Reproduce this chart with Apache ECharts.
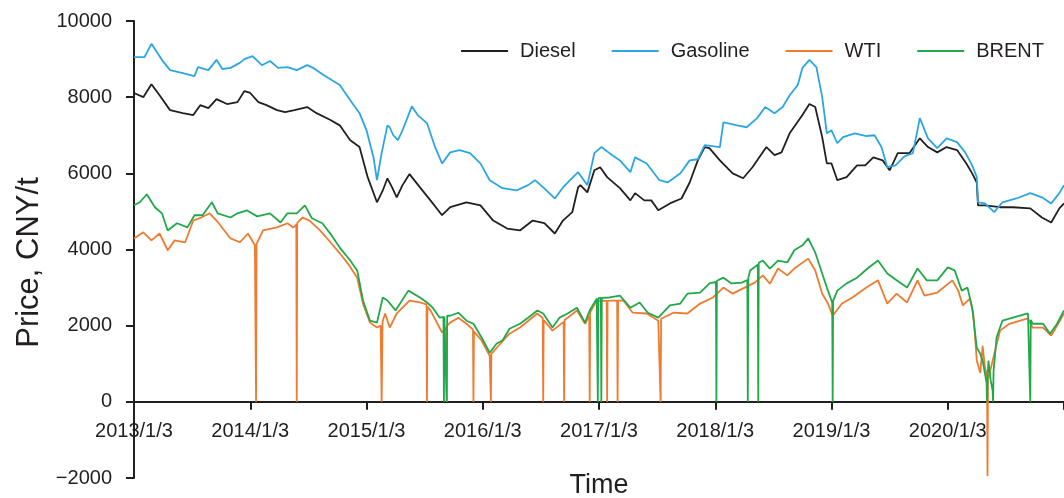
<!DOCTYPE html>
<html>
<head>
<meta charset="utf-8">
<style>
  html, body { margin: 0; padding: 0; background: #ffffff; }
  #chart { width: 1064px; height: 498px; }
</style>
<script src="https://cdn.jsdelivr.net/npm/echarts@6/dist/echarts.min.js"></script>
</head>
<body>
<div id="chart"></div>
<script>
// Time is expressed in decimal years, 2013.0 = 2013/1/3.
const yearTicks = [2013, 2014, 2015, 2016, 2017, 2018, 2019, 2020];
const seriesNames = ['Diesel', 'Gasoline', 'WTI', 'BRENT'];
const priceRange = [-2000, 10000];

// Diesel price, CNY/t
const diesel = [
  [2013.00, 8110], [2013.08, 8000], [2013.15, 8340], [2013.22, 8050], [2013.31, 7660],
  [2013.42, 7580], [2013.51, 7530], [2013.57, 7790], [2013.64, 7710], [2013.71, 7950],
  [2013.80, 7820], [2013.89, 7870], [2013.95, 8160], [2014.00, 8110], [2014.07, 7870],
  [2014.14, 7790], [2014.23, 7660], [2014.30, 7610], [2014.38, 7660], [2014.49, 7740],
  [2014.57, 7580], [2014.69, 7400], [2014.77, 7260], [2014.86, 6870], [2014.94, 6690],
  [2015.01, 5900], [2015.09, 5240], [2015.14, 5550], [2015.18, 5870], [2015.22, 5630],
  [2015.26, 5370], [2015.31, 5690], [2015.37, 5980], [2015.46, 5630], [2015.55, 5290],
  [2015.65, 4900], [2015.72, 5110], [2015.86, 5240], [2015.98, 5160], [2016.09, 4760],
  [2016.21, 4550], [2016.32, 4500], [2016.43, 4760], [2016.53, 4690], [2016.62, 4420],
  [2016.69, 4760], [2016.77, 4980], [2016.82, 5630], [2016.84, 5690], [2016.90, 5500],
  [2016.96, 6080], [2017.01, 6160], [2017.07, 5900], [2017.18, 5610], [2017.27, 5290],
  [2017.31, 5480], [2017.39, 5290], [2017.45, 5290], [2017.51, 5030], [2017.61, 5210],
  [2017.71, 5340], [2017.78, 5760], [2017.85, 6340], [2017.91, 6690], [2017.95, 6660],
  [2018.04, 6340], [2018.15, 6000], [2018.24, 5870], [2018.32, 6160], [2018.44, 6690],
  [2018.51, 6480], [2018.57, 6550], [2018.64, 7050], [2018.75, 7530], [2018.81, 7820],
  [2018.86, 7740], [2018.92, 6950], [2018.96, 6260], [2019.00, 6260], [2019.05, 5820],
  [2019.13, 5900], [2019.22, 6210], [2019.29, 6210], [2019.36, 6420], [2019.44, 6340],
  [2019.50, 6080], [2019.57, 6530], [2019.67, 6530], [2019.76, 6920], [2019.83, 6690],
  [2019.91, 6550], [2019.99, 6690], [2020.08, 6610], [2020.16, 6260], [2020.21, 6000],
  [2020.25, 5760], [2020.26, 5160], [2020.32, 5160], [2020.45, 5110], [2020.56, 5110],
  [2020.71, 5080], [2020.81, 4840], [2020.89, 4710], [2020.96, 5080], [2021.00, 5210]
];

// Gasoline price, CNY/t
const gasoline = [
  [2013.00, 9050], [2013.09, 9050], [2013.15, 9400], [2013.24, 8980], [2013.31, 8710],
  [2013.42, 8630], [2013.52, 8550], [2013.55, 8790], [2013.64, 8710], [2013.71, 8980],
  [2013.76, 8740], [2013.83, 8770], [2013.91, 8900], [2013.95, 9000], [2014.02, 9080],
  [2014.10, 8840], [2014.17, 8950], [2014.24, 8770], [2014.32, 8790], [2014.40, 8710],
  [2014.49, 8840], [2014.54, 8770], [2014.63, 8580], [2014.70, 8450], [2014.77, 8320],
  [2014.86, 7920], [2014.94, 7580], [2015.00, 7130], [2015.06, 6420], [2015.09, 5820],
  [2015.13, 6530], [2015.18, 7260], [2015.20, 7210], [2015.23, 7000], [2015.27, 6870],
  [2015.31, 7130], [2015.39, 7760], [2015.44, 7530], [2015.52, 7320], [2015.59, 6690],
  [2015.65, 6260], [2015.72, 6550], [2015.80, 6610], [2015.89, 6530], [2015.98, 6260],
  [2016.06, 5820], [2016.17, 5610], [2016.29, 5550], [2016.39, 5690], [2016.45, 5820],
  [2016.52, 5630], [2016.62, 5340], [2016.69, 5630], [2016.82, 6030], [2016.90, 5690],
  [2016.96, 6530], [2017.02, 6690], [2017.09, 6530], [2017.18, 6340], [2017.27, 6030],
  [2017.31, 6420], [2017.41, 6260], [2017.52, 5820], [2017.59, 5760], [2017.70, 6000],
  [2017.78, 6340], [2017.85, 6370], [2017.91, 6740], [2018.04, 6690], [2018.07, 7340],
  [2018.19, 7260], [2018.27, 7210], [2018.36, 7450], [2018.43, 7740], [2018.51, 7580],
  [2018.58, 7740], [2018.64, 8050], [2018.71, 8320], [2018.75, 8770], [2018.81, 8980],
  [2018.87, 8790], [2018.92, 8000], [2018.96, 7050], [2019.00, 7130], [2019.05, 6790],
  [2019.10, 6950], [2019.20, 7050], [2019.30, 6980], [2019.37, 7000], [2019.43, 6690],
  [2019.48, 6160], [2019.55, 6210], [2019.63, 6450], [2019.70, 6530], [2019.76, 7450],
  [2019.83, 6920], [2019.91, 6660], [2019.99, 6920], [2020.08, 6820], [2020.15, 6550],
  [2020.21, 6210], [2020.25, 5900], [2020.26, 5240], [2020.32, 5210], [2020.40, 4980],
  [2020.47, 5240], [2020.59, 5340], [2020.71, 5480], [2020.81, 5370], [2020.89, 5210],
  [2020.96, 5480], [2021.00, 5690]
];

// WTI crude price, CNY/t (days without quotes recorded as 0)
const wti = [
  [2013.00, 4290], [2013.08, 4450], [2013.15, 4240], [2013.22, 4420], [2013.29, 3980],
  [2013.35, 4240], [2013.44, 4190], [2013.51, 4760], [2013.58, 4840], [2013.65, 4950],
  [2013.71, 4760], [2013.83, 4290], [2013.91, 4190], [2013.98, 4420], [2014.04, 4110],
  [2014.046, 4120], [2014.05, 0], [2014.054, 4150],
  [2014.11, 4500], [2014.23, 4580], [2014.32, 4690], [2014.37, 4580],
  [2014.396, 4650], [2014.40, 0], [2014.404, 4700],
  [2014.45, 4840], [2014.51, 4760], [2014.60, 4500], [2014.69, 4190], [2014.77, 3900],
  [2014.84, 3630], [2014.92, 3260], [2014.97, 2580], [2015.03, 2080], [2015.09, 1950],
  [2015.122, 2000], [2015.13, 0], [2015.138, 2100],
  [2015.16, 2320], [2015.20, 1950], [2015.26, 2320], [2015.37, 2660], [2015.46, 2610],
  [2015.516, 2560], [2015.52, 0], [2015.524, 2500],
  [2015.55, 2400], [2015.65, 1820],
  [2015.686, 1950], [2015.69, 0], [2015.694, 2000],
  [2015.72, 2080], [2015.79, 2210], [2015.86, 2050],
  [2015.916, 1900], [2015.92, 0], [2015.924, 1850],
  [2015.99, 1610], [2016.06, 1210],
  [2016.066, 1230], [2016.07, 0], [2016.074, 1260],
  [2016.12, 1420], [2016.23, 1790], [2016.32, 1950], [2016.47, 2320],
  [2016.516, 2200], [2016.52, 0], [2016.524, 2150],
  [2016.60, 1870],
  [2016.696, 2100], [2016.70, 0], [2016.704, 2150],
  [2016.73, 2210], [2016.81, 2400], [2016.88, 2050],
  [2016.916, 2250], [2016.92, 0], [2016.924, 2350],
  [2016.98, 2660],
  [2017.066, 2650], [2017.07, 0], [2017.074, 2650],
  [2017.12, 2660],
  [2017.156, 2660], [2017.16, 0], [2017.164, 2660],
  [2017.21, 2660], [2017.29, 2340], [2017.41, 2320], [2017.51, 2130],
  [2017.526, 2150], [2017.53, 0], [2017.534, 2180],
  [2017.64, 2340], [2017.76, 2320], [2017.87, 2580], [2017.98, 2740], [2018.07, 3000],
  [2018.15, 2840], [2018.24, 2980], [2018.34, 3130], [2018.41, 3320], [2018.47, 3100],
  [2018.54, 3500], [2018.62, 3320], [2018.68, 3500], [2018.80, 3760], [2018.86, 3450],
  [2018.92, 2840], [2018.97, 2580], [2019.01, 2260], [2019.09, 2580], [2019.18, 2740],
  [2019.30, 3000], [2019.40, 3190], [2019.48, 2580], [2019.56, 2840], [2019.65, 2610],
  [2019.74, 3190], [2019.80, 2790], [2019.91, 2870], [2020.04, 3190], [2020.09, 2920],
  [2020.13, 2530], [2020.19, 2710], [2020.22, 2320], [2020.25, 1080], [2020.28, 760],
  [2020.30, 1470], [2020.32, 900],
  [2020.338, 700], [2020.342, -1950], [2020.346, 600],
  [2020.36, 740], [2020.40, 1260], [2020.45, 1870], [2020.53, 2050], [2020.69, 2190],
  [2020.73, 1950], [2020.82, 1950], [2020.89, 1740], [2020.95, 2050], [2021.00, 2320]
];

// BRENT crude price, CNY/t (days without quotes recorded as 0)
const brent = [
  [2013.00, 5160], [2013.05, 5240], [2013.11, 5450], [2013.18, 5110], [2013.24, 4950],
  [2013.29, 4500], [2013.37, 4690], [2013.46, 4580], [2013.52, 4900], [2013.59, 4900],
  [2013.67, 5240], [2013.72, 4950], [2013.83, 4840], [2013.89, 4950], [2013.97, 5030],
  [2014.06, 4870], [2014.17, 4950], [2014.26, 4710], [2014.32, 4950], [2014.40, 4950],
  [2014.47, 5160], [2014.53, 4820], [2014.62, 4690], [2014.70, 4370], [2014.77, 4050],
  [2014.86, 3710], [2014.92, 3450], [2014.97, 2660], [2015.03, 2130], [2015.09, 2080],
  [2015.14, 2740], [2015.18, 2660], [2015.25, 2400], [2015.36, 2920], [2015.46, 2740],
  [2015.52, 2610], [2015.57, 2470], [2015.63, 2210],
  [2015.662, 2230], [2015.666, 0], [2015.67, 2240],
  [2015.686, 2250], [2015.69, 0], [2015.694, 2260],
  [2015.72, 2260], [2015.79, 2340], [2015.86, 2130], [2015.92, 2050], [2015.99, 1690],
  [2016.06, 1290], [2016.12, 1530], [2016.17, 1610], [2016.23, 1920], [2016.32, 2050],
  [2016.39, 2210], [2016.47, 2400], [2016.52, 2320], [2016.60, 1950], [2016.66, 2210],
  [2016.73, 2320], [2016.81, 2470], [2016.88, 2080], [2016.92, 2400], [2016.98, 2710],
  [2016.986, 2720], [2016.99, 0], [2016.994, 2720],
  [2017.016, 2730], [2017.02, 0], [2017.024, 2730],
  [2017.09, 2740], [2017.18, 2790], [2017.27, 2470], [2017.35, 2610], [2017.42, 2340],
  [2017.51, 2210], [2017.61, 2530], [2017.70, 2580], [2017.76, 2840], [2017.87, 2870],
  [2017.95, 3110],
  [2018.006, 3150], [2018.01, 0], [2018.014, 3180],
  [2018.07, 3260], [2018.14, 3110], [2018.23, 3130],
  [2018.276, 3200], [2018.28, 0], [2018.284, 3250],
  [2018.30, 3450],
  [2018.366, 3600], [2018.37, 0], [2018.374, 3650],
  [2018.41, 3710], [2018.47, 3500], [2018.54, 3710], [2018.62, 3660], [2018.68, 3980],
  [2018.75, 4110], [2018.80, 4290], [2018.86, 3920], [2018.92, 3370], [2018.96, 3000],
  [2019.00, 2660],
  [2019.006, 2600], [2019.01, 0], [2019.014, 2650],
  [2019.05, 2920], [2019.13, 3110], [2019.22, 3260], [2019.31, 3500], [2019.40, 3710],
  [2019.48, 3370], [2019.56, 3190], [2019.65, 3000], [2019.74, 3500], [2019.82, 3190],
  [2019.91, 3190], [2020.00, 3530], [2020.06, 3450], [2020.12, 2920], [2020.17, 3000],
  [2020.21, 2470], [2020.25, 1420], [2020.28, 1260], [2020.30, 1080], [2020.32, 740],
  [2020.334, 500], [2020.338, 0], [2020.342, 600],
  [2020.35, 1080], [2020.37, 550],
  [2020.386, 300], [2020.39, 0], [2020.394, 800],
  [2020.42, 1690], [2020.47, 2130], [2020.56, 2210], [2020.69, 2320],
  [2020.706, 2320], [2020.71, 0], [2020.714, 2150],
  [2020.73, 2050], [2020.82, 2050], [2020.88, 1790], [2020.94, 2050], [2021.00, 2400]
];

const ink = '#231f20';
const fontFamily = '"Liberation Sans", Arial, Helvetica, sans-serif';
const colors = ['#231f20', '#2ba6e1', '#ee7b30', '#21a84a'];

const chartWidth = 1064, chartHeight = 498;
const gridBox = { left: 134, right: 0, top: 21, bottom: 20 };
// The time axis sits on the zero price line: shift it up from the grid bottom
// by the share of the plot height taken by the negative range.
const plotHeight = chartHeight - gridBox.top - gridBox.bottom;
const zeroOffset = plotHeight * (0 - priceRange[0]) / (priceRange[1] - priceRange[0]);

const chart = echarts.init(document.getElementById('chart'), null, { renderer: 'canvas' });

function lineSeries(name, data, color) {
  return {
    name: name,
    type: 'line',
    data: data,
    symbol: 'none',
    showSymbol: false,
    sampling: false,
    lineStyle: { color: color, width: 1.8 },
    itemStyle: { color: color }
  };
}

chart.setOption({
  animation: false,
  backgroundColor: '#ffffff',
  textStyle: { fontFamily: fontFamily, color: ink },
  grid: Object.assign({ containLabel: false, outerBoundsMode: 'none' }, gridBox),
  legend: {
    data: seriesNames,
    right: 15,
    top: 36,
    icon: 'rect',
    itemWidth: 47,
    itemHeight: 2,
    itemGap: 36,
    textStyle: { fontSize: 20, color: ink, fontFamily: fontFamily, padding: [0, 0, 0, 7] }
  },
  xAxis: {
    type: 'value',
    position: 'bottom',
    offset: -zeroOffset,
    min: yearTicks[0],
    max: 2021,
    interval: 1,
    name: 'Time',
    nameLocation: 'middle',
    nameGap: 70,
    nameTextStyle: { fontSize: 27, color: ink, fontFamily: fontFamily },
    axisLine: { onZero: false, lineStyle: { color: ink, width: 2 } },
    axisTick: { show: true, inside: false, length: 8, lineStyle: { color: ink, width: 2 } },
    axisLabel: {
      fontSize: 20,
      color: ink,
      margin: 20,
      formatter: function (v) {
        return yearTicks.indexOf(v) >= 0 ? v + '/1/3' : '';
      }
    },
    splitLine: { show: false }
  },
  yAxis: {
    type: 'value',
    min: priceRange[0],
    max: priceRange[1],
    interval: 2000,
    name: 'Price, CNY/t',
    nameLocation: 'middle',
    nameGap: 84,
    nameTextStyle: { fontSize: 31, color: ink, fontFamily: fontFamily, padding: [0, 26, 0, 0] },
    axisLine: { show: true, lineStyle: { color: ink, width: 2 } },
    axisTick: { show: true, inside: false, length: 8, lineStyle: { color: ink, width: 2 } },
    axisLabel: {
      fontSize: 20,
      color: ink,
      margin: 22,
      formatter: function (v) {
        return v < 0 ? '\u2212' + Math.abs(v) : String(v);
      }
    },
    splitLine: { show: false }
  },
  series: [
    lineSeries('Diesel', diesel, colors[0]),
    lineSeries('Gasoline', gasoline, colors[1]),
    lineSeries('WTI', wti, colors[2]),
    lineSeries('BRENT', brent, colors[3])
  ]
});
</script>
</body>
</html>
